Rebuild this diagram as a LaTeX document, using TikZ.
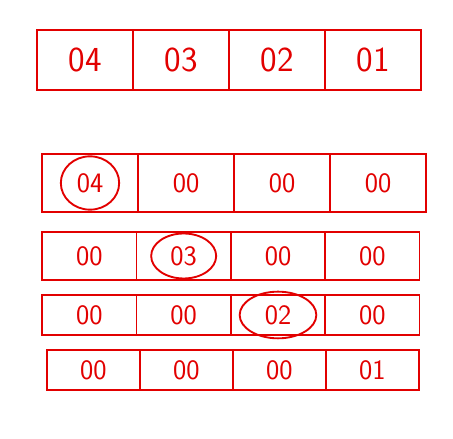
\documentclass[tikz,border=0pt]{standalone}
\usepackage{tikz}
\usetikzlibrary{positioning}
\usepgflibrary{shapes.geometric}
\definecolor{pen}{RGB}{226,0,0}

\begin{document}
\begin{tikzpicture}[
      cell/.style ={rectangle, draw=pen, line width=1.6pt, outer sep=0pt,
                    minimum width=2.88cm, text=pen, font=\sffamily\fontsize{24}{26}\selectfont},
      big/.style ={minimum height=1.8cm, font=\sffamily\fontsize{30}{32}\selectfont},
      ring/.style ={ellipse, draw=pen, line width=1.6pt, inner sep=0pt},
      node distance=0pt
    ]
    \useasboundingbox (0,0) rectangle (13.59,13.17);

    % the number as it is stored
    \node [cell, big] (a1) at (2.55,11.37) {04} ;
    \node [cell, big] (a2) [right=of a1] {03} ;
    \node [cell, big] (a3) [right=of a2] {02} ;
    \node [cell, big] (a4) [right=of a3] {01} ;

    % one byte kept, the rest cleared
    \node [cell, minimum height=1.74cm] (b1) at (2.7,7.68) {04} ;
    \node [cell, minimum height=1.74cm] (b2) [right=of b1] {00} ;
    \node [cell, minimum height=1.74cm] (b3) [right=of b2] {00} ;
    \node [cell, minimum height=1.74cm] (b4) [right=of b3] {00} ;

    \node [cell, minimum width=2.83cm, minimum height=1.44cm] (c1) at (2.68,5.49) {00} ;
    \node [cell, minimum width=2.83cm, minimum height=1.44cm] (c2) [right=of c1] {03} ;
    \node [cell, minimum width=2.83cm, minimum height=1.44cm] (c3) [right=of c2] {00} ;
    \node [cell, minimum width=2.83cm, minimum height=1.44cm] (c4) [right=of c3] {00} ;

    \node [cell, minimum width=2.83cm, minimum height=1.2cm] (d1) at (2.68,3.72) {00} ;
    \node [cell, minimum width=2.83cm, minimum height=1.2cm] (d2) [right=of d1] {00} ;
    \node [cell, minimum width=2.83cm, minimum height=1.2cm] (d3) [right=of d2] {02} ;
    \node [cell, minimum width=2.83cm, minimum height=1.2cm] (d4) [right=of d3] {00} ;

    \node [cell, minimum width=2.79cm, minimum height=1.2cm] (e1) at (2.8,2.07) {00} ;
    \node [cell, minimum width=2.79cm, minimum height=1.2cm] (e2) [right=of e1] {00} ;
    \node [cell, minimum width=2.79cm, minimum height=1.2cm] (e3) [right=of e2] {00} ;
    \node [cell, minimum width=2.79cm, minimum height=1.2cm] (e4) [right=of e3] {01} ;

    % circled bytes
    \node [ring, minimum width=1.75cm, minimum height=1.6cm] (hb) at (b1) {} ;
    \node [ring, minimum width=1.95cm, minimum height=1.35cm] (hc) at (c2) {} ;
    \node [ring, minimum width=2.3cm, minimum height=1.4cm] (hd) at (d3) {} ;
  \end{tikzpicture}
\end{document}
